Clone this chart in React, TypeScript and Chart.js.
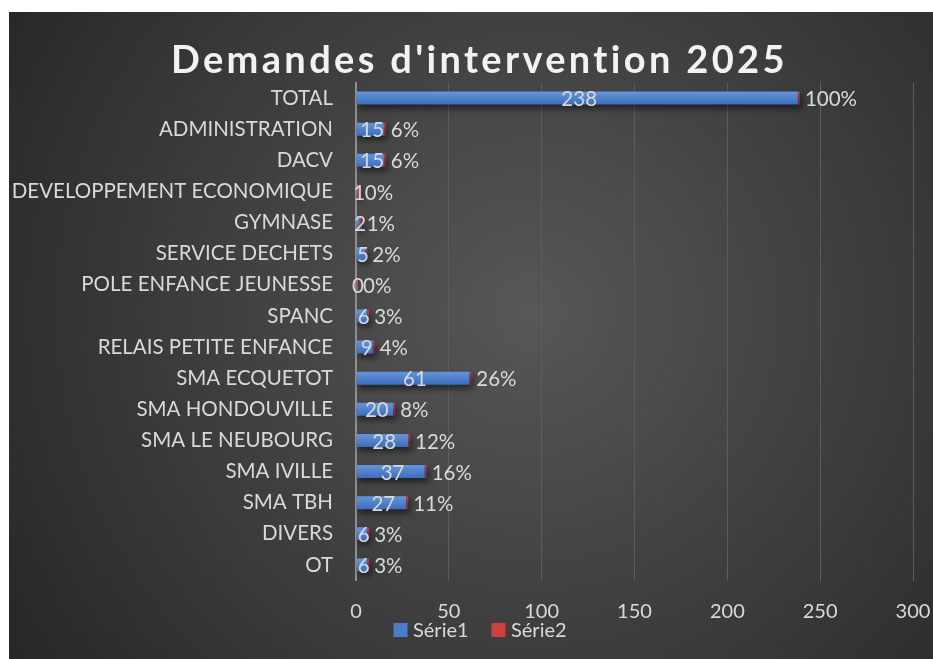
import React, { useEffect, useRef } from "react";
import { Chart, registerables } from "chart.js";

Chart.register(...registerables);

const TITLE = "Demandes d'intervention 2025";
const categories = [
  "TOTAL",
  "ADMINISTRATION",
  "DACV",
  "DEVELOPPEMENT ECONOMIQUE",
  "GYMNASE",
  "SERVICE DECHETS",
  "POLE ENFANCE JEUNESSE",
  "SPANC",
  "RELAIS PETITE ENFANCE",
  "SMA ECQUETOT",
  "SMA HONDOUVILLE",
  "SMA LE NEUBOURG",
  "SMA IVILLE",
  "SMA TBH",
  "DIVERS",
  "OT",
];
const serie1 = [238, 15, 15, 1, 2, 5, 0, 6, 9, 61, 20, 28, 37, 27, 6, 6];
const serie2 = [1, 0.06, 0.06, 0.004, 0.01, 0.02, 0, 0.03, 0.04, 0.26, 0.08, 0.12, 0.16, 0.11, 0.03, 0.03];
const seriesNames = ["Série1", "Série2"];
const xMax = 300;
const xStep = 50;

const FONT = "Lato, 'Open Sans', sans-serif";
const TEXT = "#d9d9d9";
const BLUE = "#4a7cc7";
const RED = "#cc4040";

const bgPlugin = {
  id: "bgPlugin",
  beforeDraw(chart: any) {
    const { ctx, width, height } = chart;
    ctx.save();
    const g = ctx.createRadialGradient(520, 300, 0, 520, 300, 620);
    g.addColorStop(0, "#575757");
    g.addColorStop(1, "#272727");
    ctx.fillStyle = g;
    ctx.fillRect(0, 0, width, height);
    ctx.restore();
  },
};

const shadowPlugin = {
  id: "shadowPlugin",
  beforeDatasetDraw(chart: any) {
    const ctx = chart.ctx;
    ctx.save();
    ctx.shadowColor = "rgba(0,0,0,0.55)";
    ctx.shadowBlur = 6;
    ctx.shadowOffsetX = 2;
    ctx.shadowOffsetY = 4;
  },
  afterDatasetDraw(chart: any) {
    chart.ctx.restore();
  },
};

const labelsPlugin = {
  id: "labelsPlugin",
  afterDatasetsDraw(chart: any) {
    const ctx = chart.ctx;
    ctx.save();
    ctx.font = `20.5px ${FONT}`;
    ctx.fillStyle = TEXT;
    ctx.textBaseline = "middle";
    const m0 = chart.getDatasetMeta(0);
    const m1 = chart.getDatasetMeta(1);
    m0.data.forEach((el: any, i: number) => {
      ctx.textAlign = "center";
      ctx.fillText(String(serie1[i]), (el.base + el.x) / 2 + 2, el.y + 1.5);
    });
    m1.data.forEach((el: any, i: number) => {
      ctx.textAlign = "left";
      ctx.fillText(Math.round(serie2[i] * 100) + "%", el.x + 5, el.y + 1.5);
    });
    ctx.restore();
  },
};

const titleLegendPlugin = {
  id: "titleLegendPlugin",
  afterDraw(chart: any) {
    const ctx = chart.ctx;
    ctx.save();
    ctx.fillStyle = "#f2f2f2";
    ctx.font = `bold 38px ${FONT}`;
    ctx.textBaseline = "alphabetic";
    ctx.textAlign = "left";
    const targetW = 614;
    const w0 = ctx.measureText(TITLE).width;
    const sp = Math.max(0, (targetW - w0) / (TITLE.length - 1));
    (ctx as any).letterSpacing = sp.toFixed(2) + "px";
    ctx.fillText(TITLE, 162, 61);
    (ctx as any).letterSpacing = "0px";

    // legend
    ctx.font = `20px ${FONT}`;
    ctx.textBaseline = "middle";
    ctx.fillStyle = BLUE;
    ctx.fillRect(384.5, 611, 14, 14);
    ctx.fillStyle = TEXT;
    ctx.fillText(seriesNames[0], 404, 618.5);
    ctx.fillStyle = RED;
    ctx.fillRect(482.5, 611, 14, 14);
    ctx.fillStyle = TEXT;
    ctx.fillText(seriesNames[1], 502, 618.5);
    ctx.restore();
  },
};

export default function App() {
  const ref = useRef<HTMLCanvasElement | null>(null);
  useEffect(() => {
    if (!ref.current) return;
    const chart = new Chart(ref.current, {
      type: "bar",
      data: {
        labels: categories,
        datasets: [
          {
            label: seriesNames[0],
            data: serie1,
            backgroundColor: (c: any) => {
              const ch = c.chart;
              const ys = ch.scales && ch.scales.y;
              if (!ys || c.dataIndex === undefined || !ch.chartArea) return BLUE;
              const y = ys.getPixelForValue(c.dataIndex);
              const g = ch.ctx.createLinearGradient(0, y - 7, 0, y + 7);
              g.addColorStop(0, "#6597dd");
              g.addColorStop(1, "#3c6cb9");
              return g;
            },
            borderWidth: 0,
            barPercentage: 0.42,
            categoryPercentage: 1,
          },
          {
            label: seriesNames[1],
            data: serie2,
            backgroundColor: RED,
            borderWidth: 0,
            barPercentage: 0.42,
            categoryPercentage: 1,
            minBarLength: 2,
          },
        ],
      },
      options: {
        indexAxis: "y",
        responsive: false,
        animation: false,
        devicePixelRatio: 1,
        layout: { padding: { left: 0, right: 20, top: 70.5, bottom: 38.5 } },
        plugins: {
          legend: { display: false },
          title: { display: false },
          tooltip: { enabled: false },
        },
        scales: {
          x: {
            stacked: true,
            min: 0,
            max: xMax,
            ticks: {
              stepSize: xStep,
              color: TEXT,
              font: { family: FONT, size: 20 },
              padding: 19,
              maxRotation: 0,
            },
            grid: { color: "#5c5c5c", lineWidth: 1, drawTicks: false },
            border: { display: false },
            afterFit: (s: any) => {
              s.height = 40;
              s.paddingRight = 0;
              s.paddingLeft = 0;
            },
          },
          y: {
            stacked: true,
            ticks: {
              color: TEXT,
              font: { family: FONT, size: 20.5 },
              padding: 23,
              autoSkip: false,
            },
            grid: { display: false, drawTicks: false },
            border: { display: true, color: "#8f8f8f", width: 2 },
            afterFit: (s: any) => {
              s.width = 347;
            },
          },
        },
      } as any,
      plugins: [bgPlugin, shadowPlugin, labelsPlugin, titleLegendPlugin],
    });
    return () => chart.destroy();
  }, []);

  return (
    <div style={{ position: "absolute", left: 9, top: 12, width: 924, height: 647 }}>
      <canvas ref={ref} width={924} height={647} style={{ display: "block" }} />
    </div>
  );
}
